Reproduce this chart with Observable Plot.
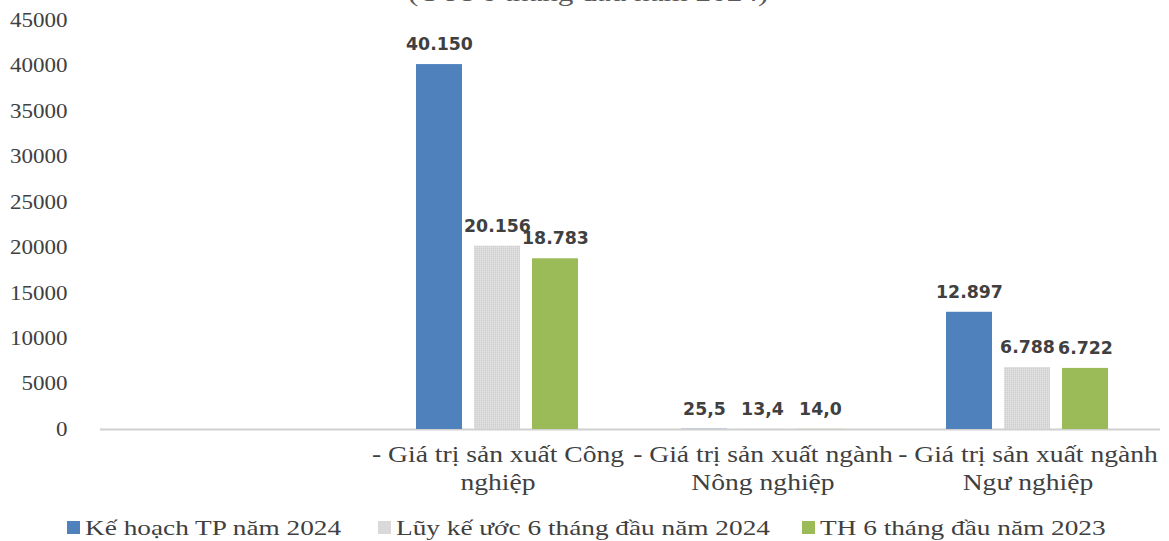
<!DOCTYPE html>
<html>
<head>
<meta charset="utf-8">
<script src="https://cdn.jsdelivr.net/npm/d3@7"></script>
<script src="https://cdn.jsdelivr.net/npm/@observablehq/plot@0.6"></script>
<style>
  html, body { margin: 0; padding: 0; background: #fff; }
  #wrap { position: relative; width: 1169px; height: 541px; overflow: hidden; }
  #title { position: absolute; top: -22px; left: 0; width: 1176px; text-align: center;
           font-family: "Liberation Serif", serif; font-size: 26px; line-height: 30px; color: #595959; }
  #title span { display: inline-block; transform: scaleX(1.2); }
  #chart { position: absolute; top: 0; left: 0; }
  #legend { position: absolute; top: 513px; left: 0; width: 1169px; height: 29px;
            font-family: "Liberation Serif", serif; font-size: 22px; color: #404040; }
  .item { position: absolute; top: 0; display: flex; align-items: center; white-space: nowrap; height: 29px; }
  .sw { width: 13px; height: 13px; margin-right: 5px; }
  .lt { display: inline-block; transform: scaleX(1.24); transform-origin: left center; }
</style>
</head>
<body>
<div id="wrap">
  <div id="title"><span>(Ước 6 tháng đầu năm 2024)</span></div>
  <div id="chart"></div>
  <div id="legend"></div>
</div>
<script>
const categories = ["", "- Giá trị sản xuất Công\nnghiệp", "- Giá trị sản xuất ngành\nNông nghiệp", "- Giá trị sản xuất ngành\nNgư nghiệp"];
const series = ["Kế hoạch TP năm 2024", "Lũy kế ước 6 tháng đầu năm 2024", "TH 6 tháng đầu năm 2023"];
const colors = ["#4f81bd", "#d9d9d9", "#9bbb59"];
const keHoach = [null, 40150, 25.5, 12897];
const luyKe = [null, 20156, 13.4, 6788];
const th2023 = [null, 18783, 14.0, 6722];
const yTicks = [0, 5000, 10000, 15000, 20000, 25000, 30000, 35000, 40000, 45000];

const seriesValues = [keHoach, luyKe, th2023];
const data = [];
categories.forEach((c, i) => {
  seriesValues.forEach((vals, s) => {
    if (vals[i] != null) data.push({cat: c, series: series[s], value: vals[i]});
  });
});

const loc = d3.formatLocale({decimal: ",", thousands: ".", grouping: [3], currency: ["", ""]});
const fmtInt = loc.format(",d");
const fmtDec = loc.format(".1f");
const fmt = v => v >= 1000 ? fmtInt(v) : fmtDec(v);

const chart = Plot.plot({
  width: 1169,
  height: 505,
  marginTop: 20,
  marginBottom: 76,
  marginLeft: 100,
  marginRight: 9,
  style: {fontFamily: "'Liberation Serif', serif", background: "transparent"},
  fx: {domain: categories, padding: 0, label: null},
  x: {domain: series, axis: null, paddingInner: 0.2, paddingOuter: 0.86},
  y: {domain: [0, 45000], label: null},
  color: {domain: series, range: colors},
  marks: [
    Plot.ruleY(categories, {fx: d => d, y: () => 0, stroke: "#d0d0d0", strokeWidth: 2}),
    Plot.axisY({ticks: yTicks, tickSize: 0, tickPadding: 33, fontSize: 20, fill: "#404040", tickFormat: d => String(d)}),
    Plot.axisFx({tickSize: 0, tickPadding: 13, fontSize: 23, lineHeight: 1.22, fill: "#404040", anchor: "bottom", label: null}),
    Plot.barY(data, {fx: "cat", x: "series", y: "value", fill: "series"}),
    Plot.barY(data.filter(d => d.series === series[1]), {fx: "cat", x: "series", y: "value", fill: "url(#dots)"}),
    Plot.text(data, {fx: "cat", x: "series", y: "value", text: d => fmt(d.value), dy: -20,
      fontFamily: "'DejaVu Sans', sans-serif", fontWeight: "bold", fontSize: 17, fill: "#404040"})
  ]
});

// texture for the grey bars
const ns = "http://www.w3.org/2000/svg";
const defs = document.createElementNS(ns, "defs");
defs.innerHTML = '<pattern id="dots" width="2" height="2" patternUnits="userSpaceOnUse">' +
  '<rect width="2" height="2" fill="#d9d9d9"/><rect width="1" height="1" fill="#cfcfcf"/>' +
  '<rect x="1" y="1" width="1" height="1" fill="#e3e3e3"/></pattern>';
chart.insertBefore(defs, chart.firstChild);

// the reference's text is horizontally stretched; widen glyphs around each anchor
const stretch = {"y-axis tick label": 1.15, "fx-axis tick label": 1.2, "text": 1.02};
chart.querySelectorAll("g[aria-label]").forEach(g => {
  const k = stretch[g.getAttribute("aria-label")];
  if (!k) return;
  g.querySelectorAll("text").forEach(t => {
    t.setAttribute("transform", (t.getAttribute("transform") || "") + ` scale(${k},1)`);
  });
});
document.getElementById("chart").appendChild(chart);

const legendLeft = [67, 378, 802];
const legend = document.getElementById("legend");
series.forEach((s, i) => {
  const it = document.createElement("div");
  it.className = "item";
  it.style.left = legendLeft[i] + "px";
  const sw = document.createElement("span");
  sw.className = "sw";
  sw.style.background = colors[i];
  it.appendChild(sw);
  const lt = document.createElement("span");
  lt.className = "lt";
  lt.textContent = s;
  it.appendChild(lt);
  legend.appendChild(it);
});
</script>
</body>
</html>
